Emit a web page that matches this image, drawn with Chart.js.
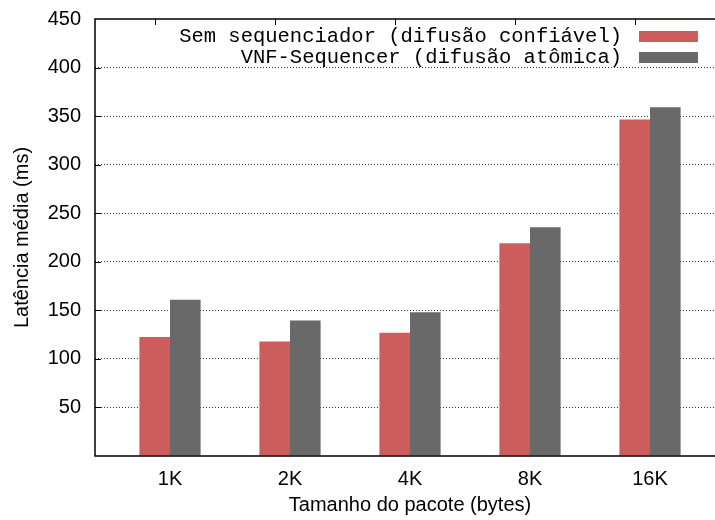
<!DOCTYPE html>
<html lang="pt-BR">
<head>
<meta charset="utf-8">
<title>Latência média por tamanho de pacote</title>
<script src="https://cdn.jsdelivr.net/npm/chart.js@4.4.1/dist/chart.umd.min.js"></script>
<style>
  html, body { margin: 0; padding: 0; background: #fff; overflow: hidden; }
  #grafico { display: block; }
</style>
</head>
<body>
<canvas id="grafico" width="740" height="520"></canvas>
<script>
// Dados
const tamanhos = ["1K", "2K", "4K", "8K", "16K"];
const semSequenciador = [122.5, 118, 127, 219, 346.5];
const vnfSequencer = [161, 139.5, 148, 235.5, 359];
const ticksY = [0, 50, 100, 150, 200, 250, 300, 350, 400, 450];

const rotulos = ["Sem sequenciador (difusão confiável)", "VNF-Sequencer (difusão atômica)"];
const cores = ["#cd5c5c", "#696969"];

const fonteSans = "'Liberation Sans', Arial, sans-serif";
const fonteMono = "'Liberation Mono', 'DejaVu Sans Mono', monospace";

const pontos = (valores) => valores.map((v, i) => ({ x: i, y: v }));

// Moldura, marcas e legenda no estilo do gnuplot
const molduraPlugin = {
  id: "moldura",
  afterDraw(chart) {
    const { ctx, chartArea: a, scales } = chart;
    ctx.save();
    ctx.strokeStyle = "#000";
    ctx.lineWidth = 1.5;
    ctx.strokeRect(a.left, a.top, a.right - a.left, a.bottom - a.top);

    ctx.lineWidth = 1;
    ctx.beginPath();
    // marcas do eixo y, para dentro
    ticksY.slice(1, -1).forEach((v) => {
      const y = Math.round(scales.y.getPixelForValue(v)) + 0.5;
      ctx.moveTo(a.left, y);
      ctx.lineTo(a.left + 6, y);
      ctx.moveTo(a.right, y);
      ctx.lineTo(a.right - 6, y);
    });
    // marcas do topo, sobre a primeira barra de cada grupo
    chart.getDatasetMeta(0).data.forEach((barra) => {
      const x = Math.round(barra.x) + 0.5;
      ctx.moveTo(x, a.top);
      ctx.lineTo(x, a.top + 6);
    });
    ctx.stroke();

    // legenda
    ctx.font = "20.5px " + fonteMono;
    ctx.textAlign = "right";
    ctx.textBaseline = "middle";
    chart.data.datasets.forEach((ds, i) => {
      const yc = a.top + 17.5 + i * 21;
      ctx.fillStyle = "#000";
      ctx.fillText(ds.label, a.right - 103, yc);
      ctx.fillStyle = ds.backgroundColor;
      ctx.fillRect(a.right - 86, yc - 5.5, 59, 11);
    });
    ctx.restore();
  }
};

new Chart(document.getElementById("grafico"), {
  type: "bar",
  data: {
    datasets: [
      { label: rotulos[0], data: pontos(semSequenciador), backgroundColor: cores[0] },
      { label: rotulos[1], data: pontos(vnfSequencer), backgroundColor: cores[1] }
    ]
  },
  options: {
    responsive: false,
    animation: false,
    devicePixelRatio: 1,
    categoryPercentage: 0.51,
    barPercentage: 1,
    layout: { padding: { top: 19, right: 15, bottom: 0, left: 0 } },
    plugins: {
      legend: { display: false },
      tooltip: { enabled: false }
    },
    scales: {
      x: {
        type: "linear",
        offset: false,
        min: -0.625,
        max: 4.625,
        afterBuildTicks: (s) => { s.ticks = tamanhos.map((_, i) => ({ value: i })); },
        afterFit: (s) => { s.height = 64; },
        grid: { display: false, drawTicks: false, offset: false },
        border: { display: false },
        ticks: {
          autoSkip: false,
          maxRotation: 0,
          padding: 11,
          color: "#000",
          font: { family: fonteSans, size: 20 },
          callback: (v) => tamanhos[v]
        },
        title: {
          display: true,
          text: "Tamanho do pacote (bytes)",
          color: "#000",
          font: { family: fonteSans, size: 20 },
          padding: { top: 0, bottom: 3 }
        }
      },
      y: {
        min: 0,
        max: 450,
        afterBuildTicks: (s) => { s.ticks = ticksY.map((v) => ({ value: v })); },
        afterFit: (s) => {
          s.width = 95;
          s.paddingTop = 0;
          s.paddingBottom = 0;
        },
        grid: {
          drawTicks: false,
          lineWidth: 1,
          color: (c) => (c.tick && c.tick.value > 0 && c.tick.value < 450 ? "#333" : "rgba(0,0,0,0)")
        },
        border: { display: false, dash: [1, 2] },
        ticks: {
          padding: 14,
          color: "#000",
          font: { family: fonteSans, size: 20 },
          callback: (v) => (v === 0 ? "" : v)
        },
        title: {
          display: true,
          text: "Latência média (ms)",
          color: "#000",
          font: { family: fonteSans, size: 20 },
          padding: { top: 10, bottom: 0 }
        }
      }
    }
  },
  plugins: [molduraPlugin]
});
</script>
</body>
</html>
